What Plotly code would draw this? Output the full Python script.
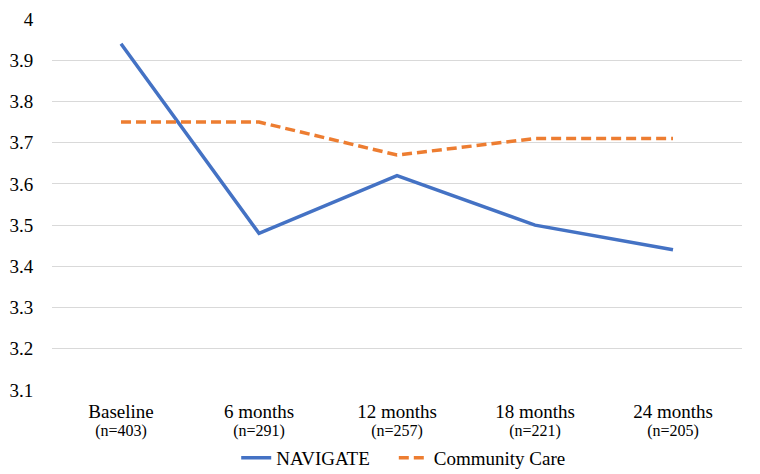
import plotly.graph_objects as go

categories = ["Baseline", "6 months", "12 months", "18 months", "24 months"]
sample_sizes = ["n=403", "n=291", "n=257", "n=221", "n=205"]
series_names = ["NAVIGATE", "Community Care"]
navigate = [3.94, 3.48, 3.62, 3.50, 3.44]
community_care = [3.75, 3.75, 3.67, 3.71, 3.71]
y_ticks = [3.1, 3.2, 3.3, 3.4, 3.5, 3.6, 3.7, 3.8, 3.9, 4]
y_tick_labels = ["3.1", "3.2", "3.3", "3.4", "3.5", "3.6", "3.7", "3.8", "3.9", "4"]

xpos = list(range(len(categories)))
ticktext = [f"<span style='font-size:19px'>{c}</span><br><span style='font-size:16px'>({n})</span>"
            for c, n in zip(categories, sample_sizes)]

FONT = "Liberation Serif, Times New Roman, serif"

fig = go.Figure()
fig.add_trace(go.Scatter(x=xpos, y=navigate, mode="lines",
                         name=series_names[0] + "&nbsp;&nbsp;&nbsp;&nbsp;",
                         line=dict(color="#4472C4", width=3.5)))
fig.add_trace(go.Scatter(x=xpos, y=community_care, mode="lines", name=series_names[1],
                         line=dict(color="#ED7D31", width=3.5, dash="10px,5px")))

fig.update_layout(
    width=752, height=466,
    margin=dict(l=44, r=18, t=11, b=84, autoexpand=False),
    paper_bgcolor="white", plot_bgcolor="white",
    font=dict(family=FONT, size=19, color="#000000"),
    showlegend=True,
    legend=dict(orientation="h", x=0.509, xanchor="center", y=-0.183, yanchor="middle",
                bgcolor="rgba(0,0,0,0)",
                font=dict(family=FONT, size=19), itemwidth=30,
                traceorder="normal", tracegroupgap=0),
)
fig.update_xaxes(range=[-0.5, 4.5], tickmode="array", tickvals=xpos, ticktext=ticktext,
                 showgrid=False, zeroline=False, showline=False, ticks="outside",
                 ticklen=10, tickcolor="rgba(0,0,0,0)",
                 tickfont=dict(family=FONT, size=14))
fig.update_yaxes(range=[3.1, 4.0], tickmode="array", tickvals=y_ticks, ticktext=y_tick_labels,
                 showgrid=True, gridcolor="#D9D9D9", gridwidth=1, zeroline=False, showline=False,
                 ticks="outside", ticklen=14, tickcolor="rgba(0,0,0,0)",
                 tickfont=dict(family=FONT, size=19))

fig.write_html("out.html")
